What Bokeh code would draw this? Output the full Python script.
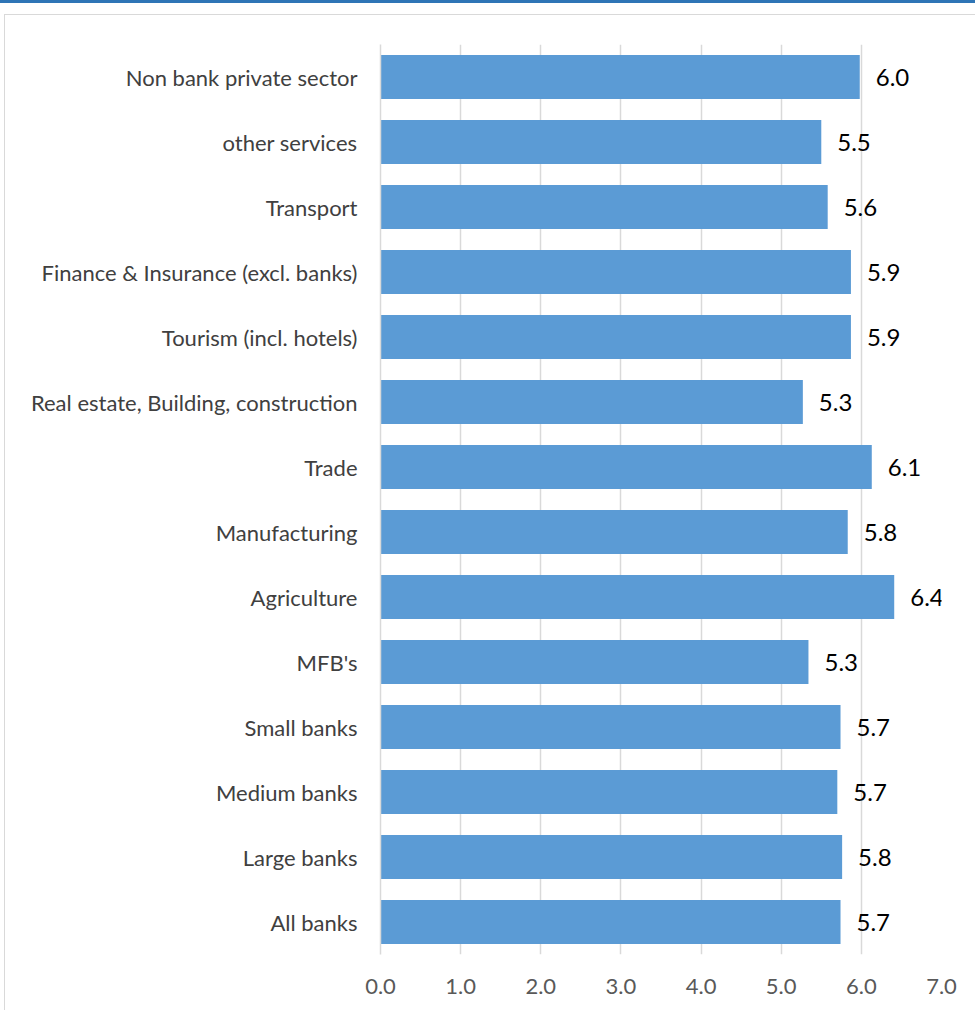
from bokeh.plotting import figure
from bokeh.models import ColumnDataSource, FactorRange, FixedTicker, CustomJSTickFormatter, Div
from bokeh.layouts import column
from bokeh.core.properties import value
from bokeh.embed import file_html
from bokeh.resources import INLINE

categories = [
    "Non bank private sector",
    "other services",
    "Transport",
    "Finance & Insurance (excl. banks)",
    "Tourism (incl. hotels)",
    "Real estate, Building, construction",
    "Trade",
    "Manufacturing",
    "Agriculture",
    "MFB's",
    "Small banks",
    "Medium banks",
    "Large banks",
    "All banks",
]
values = [5.98, 5.50, 5.58, 5.87, 5.87, 5.27, 6.13, 5.83, 6.41, 5.34, 5.74, 5.70, 5.76, 5.74]
x_ticks = [0, 1, 2, 3, 4, 5, 6, 7]

labels = ["%.1f" % v for v in values]
src = ColumnDataSource(dict(cat=categories, val=values, lab=labels))

FONT = "Lato"

p = figure(width=971, height=996, output_backend="svg", toolbar_location=None,
           y_range=FactorRange(factors=list(reversed(categories)), range_padding=0),
           x_range=(0, 7),
           min_border_left=375, min_border_right=35, min_border_top=29, min_border_bottom=57)
p.outline_line_color = None
p.background_fill_color = "white"
p.border_fill_color = "white"
p.margin = (11, 0, 0, 4)
p.styles = {"border-top": "1.5px solid #D9D9D9", "border-left": "1.5px solid #D9D9D9"}

p.hbar(y="cat", right="val", left=0, height=0.68, source=src,
       fill_color="#5B9BD5", line_color=None)

p.text(x="val", y="cat", text="lab", source=src, x_offset=16,
       text_align="left", text_baseline="middle",
       text_font=value(FONT), text_font_size="24px", text_color="#000000")

# axes
p.xaxis.ticker = FixedTicker(ticks=x_ticks)
p.xaxis.formatter = CustomJSTickFormatter(code="return tick.toFixed(1);")
p.xaxis.axis_line_color = None
p.xaxis.major_tick_line_color = None
p.xaxis.minor_tick_line_color = None
p.xaxis.major_label_standoff = 18
p.xaxis.major_label_text_font = FONT
p.xaxis.major_label_text_font_size = "22px"
p.xaxis.major_label_text_color = "#595959"

p.yaxis.axis_line_color = "#D9D9D9"
p.yaxis.axis_line_width = 1.5
p.yaxis.major_tick_line_color = None
p.yaxis.minor_tick_line_color = None
p.yaxis.major_label_standoff = 17
p.yaxis.major_label_text_font = FONT
p.yaxis.major_label_text_font_size = "22px"
p.yaxis.major_label_text_color = "#404040"

p.xgrid.grid_line_color = "#D9D9D9"
p.xgrid.grid_line_width = 1.5
p.ygrid.grid_line_color = None

top_rule = Div(text="", width=975, height=3, margin=0,
               styles={"background-color": "#2E75B6"})

layout = column(top_rule, p, spacing=0)

open("out.html", "w").write(file_html(layout, INLINE))
